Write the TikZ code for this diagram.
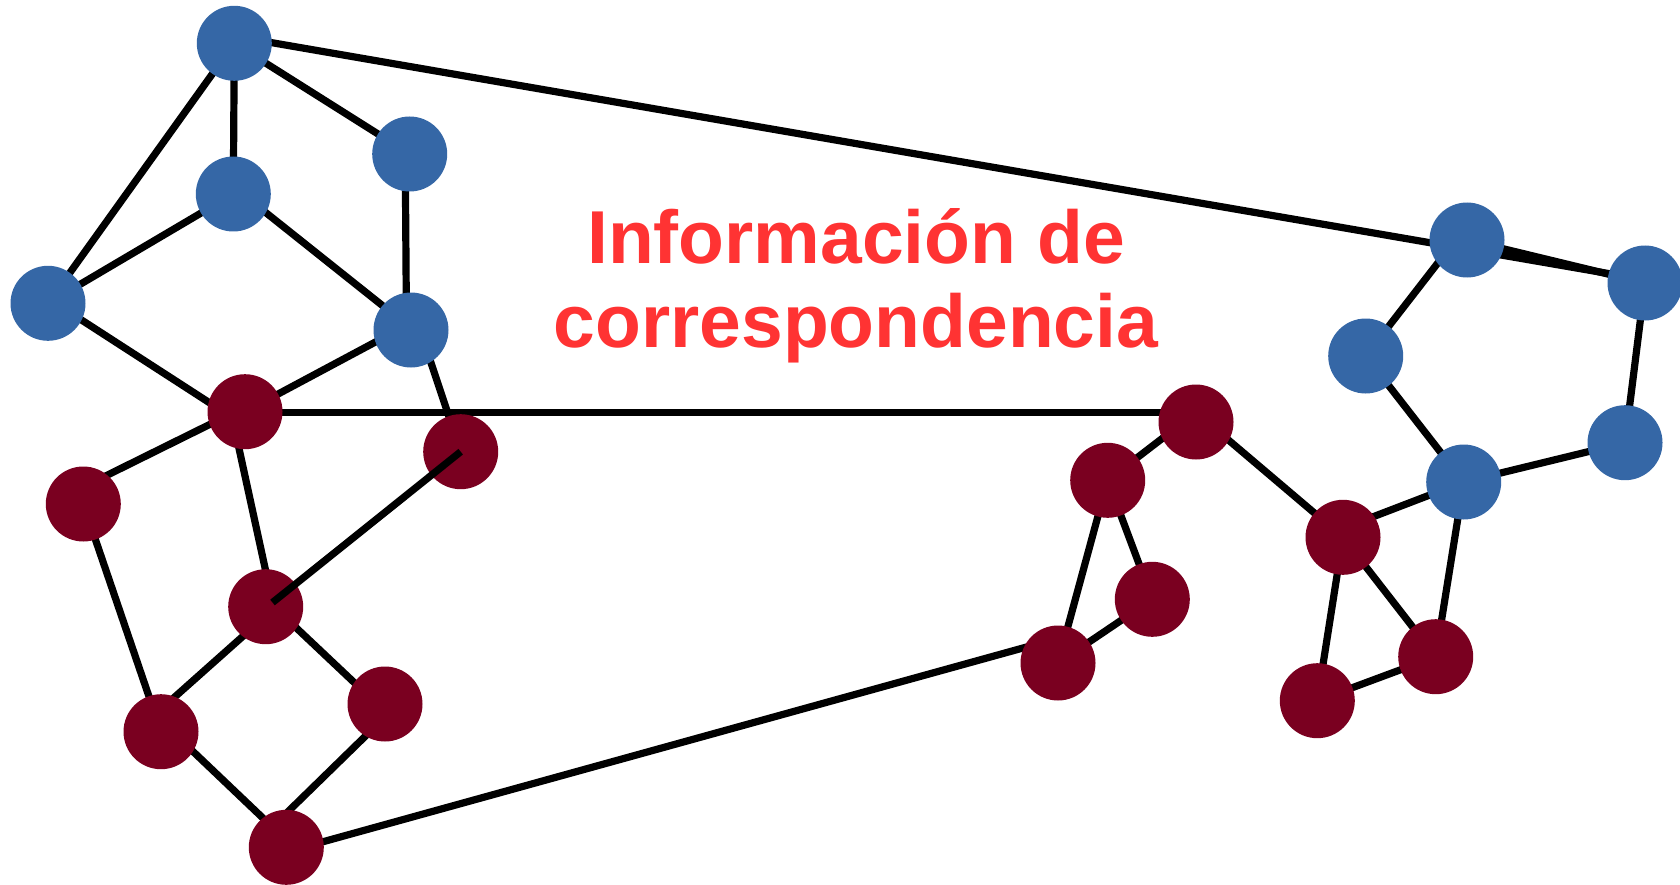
\documentclass[tikz,border=0pt]{standalone}
\usepackage{fontspec}
\setmainfont{Liberation Sans}
\usetikzlibrary{backgrounds}
\definecolor{nodeblue}{HTML}{3567A6}
\definecolor{nodered}{HTML}{7A0020}
\definecolor{textred}{HTML}{FF3333}
\tikzset{
  bnode/.style={circle, fill=nodeblue, inner sep=0pt, minimum size=75pt},
  rnode/.style={circle, fill=nodered, inner sep=0pt, minimum size=75pt},
  conn/.style={draw=black, line width=7.2pt},
  lbl/.style={text=textred, font=\fontsize{75}{84}\selectfont\bfseries, anchor=base, inner sep=0pt}
}
\begin{document}
\begin{tikzpicture}[x=1pt, y=-1pt]
\useasboundingbox (0,0) rectangle (1680,885);
% blue nodes
\node[bnode] (B1) at (234.3,43.3) {};
\node[bnode] (B2) at (409.7,154) {};
\node[bnode] (B3) at (233.3,194) {};
\node[bnode] (B4) at (48,303.3) {};
\node[bnode] (B5) at (411,330) {};
\node[bnode] (B6) at (1467,240) {};
\node[bnode] (B7) at (1645,283) {};
\node[bnode] (B8) at (1365.7,356) {};
\node[bnode] (B9) at (1625,442.7) {};
\node[bnode] (B10) at (1463.7,482) {};
% red nodes
\node[rnode] (R1) at (245,411.7) {};
\node[rnode] (R2) at (460.7,451.7) {};
\node[rnode] (R3) at (83.3,504) {};
\node[rnode] (R4) at (265.7,606.7) {};
\node[rnode] (R5) at (385,704) {};
\node[rnode] (R6) at (161,731.7) {};
\node[rnode] (R7) at (286.3,847.3) {};
\node[rnode] (R8) at (1196,422) {};
\node[rnode] (R9) at (1107.7,480.3) {};
\node[rnode] (R10) at (1152.3,599.3) {};
\node[rnode] (R11) at (1058,663) {};
\node[rnode] (R12) at (1343,537.3) {};
\node[rnode] (R13) at (1435.7,656.7) {};
\node[rnode] (R14) at (1317.3,700.7) {};
\coordinate (H) at (1196,412.5);
\coordinate (Q) at (1640,279);
\coordinate (R4tip) at (272.5,602.5);
\begin{scope}[on background layer]
  \draw[conn] (B1.center) -- (B2.center);
  \draw[conn] (B1.center) -- (B3.center);
  \draw[conn] (B1.center) -- (B4.center);
  \draw[conn] ([yshift=7.1pt]B1.center) -- (Q);
  \draw[conn] (B3.center) -- (B4.center);
  \draw[conn] ([yshift=7.3pt]B3.center) -- ([yshift=1.7pt]B5.center);
  \draw[conn] ([xshift=-4.5pt]B2.center) -- ([xshift=-4.5pt]B5.center);
  \draw[conn] ([yshift=5pt]B4.center) -- ([yshift=-14pt]R1.center);
  \draw[conn] ([yshift=7pt]B5.center) -- (R1.center);
  \draw[conn] ([xshift=9pt]B5.center) -- (R2.center);
  \draw[conn] (R1.center |- H) -- (H);
  \draw[conn] ([yshift=4.7pt]R1.center) -- ([yshift=17pt]R3.center);
  \draw[conn] ([xshift=-14pt]R1.center) -- ([xshift=7.8pt]R4.center);
  \draw[conn] (R3.center) -- (R6.center);
  \draw[conn] ([yshift=-9.3pt]R4.center) -- ([yshift=22.5pt]R6.center);
  \draw[conn] ([yshift=7.7pt]R4.center) -- ([yshift=-7.6pt]R5.center);
  \draw[conn] ([yshift=10.7pt]R6.center) -- ([yshift=7pt]R7.center);
  \draw[conn] ([yshift=-13pt]R5.center) -- ([yshift=34pt]R7.center);
  \draw[conn] ([yshift=-4.6pt]R7.center) -- ([yshift=24.7pt]R11.center);
  \draw[conn] (R11.center) -- (R9.center);
  \draw[conn] (R11.center) -- (R10.center);
  \draw[conn] (R9.center) -- (R10.center);
  \draw[conn] (R9.center) -- (H);
  \draw[conn] (H) -- (R12.center);
  \draw[conn] ([yshift=9pt]R12.center) -- (B10.center);
  \draw[conn] (R12.center) -- (R13.center);
  \draw[conn] (R12.center) -- (R14.center);
  \draw[conn] (R14.center) -- (R13.center);
  \draw[conn] (R13.center) -- (B10.center);
  \draw[conn] (B10.center) -- (B8.center);
  \draw[conn] (B8.center) -- ([xshift=-11.4pt]B6.center);
  \draw[conn] (B10.center) -- (B9.center);
  \draw[conn] (B9.center) -- (B7.center);
  \draw[conn] (B6.center) -- (B7.center);
\end{scope}
% line drawn over R4
\draw[conn] (R2.center) -- (R4tip);
% text
\node[lbl] (T1) at (856,263.6) {Información de};
\node[lbl] (T2) at (856,347.3) {correspondencia};
\end{tikzpicture}
\end{document}
